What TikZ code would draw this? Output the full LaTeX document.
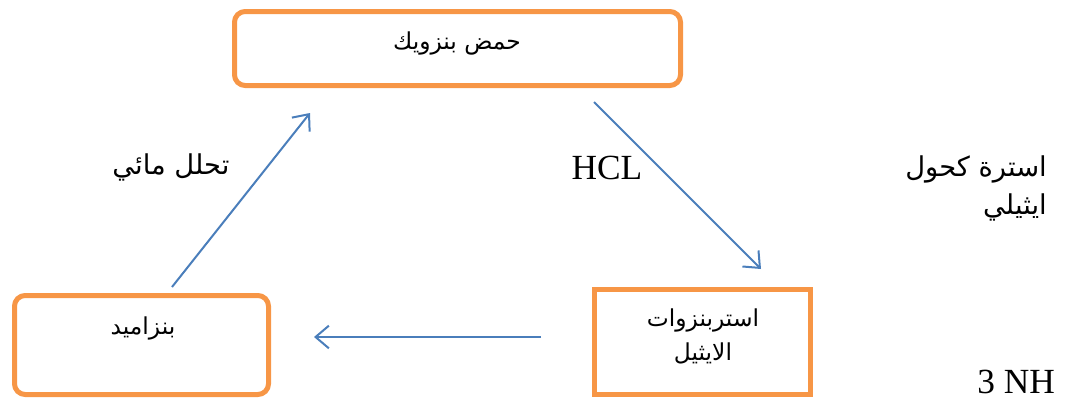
\documentclass[tikz,border=0pt]{standalone}
\usepackage{fontspec}
\setmainfont{Liberation Serif}
\newfontfamily\arabicfont[Script=Arabic]{DejaVu Sans}
\TeXXeTstate=1
\usetikzlibrary{arrows.meta}
\definecolor{boxorange}{HTML}{F79646}
\definecolor{arrowblue}{HTML}{4A7EBB}
\tikzset{
  chembox/.style={draw=boxorange, line width=3.75pt, inner sep=0pt},
  roundbox/.style={chembox, rounded corners=8pt},
  flow/.style={draw=arrowblue, line width=1.5pt, -{Straight Barb[length=10pt,width=17pt,line width=1.5pt]}},
  boxtext/.style={font=\arabicfont\fontsize{17.5}{25.5}\selectfont, inner sep=0pt, align=center},
  bigarabic/.style={font=\arabicfont\fontsize{20.5}{28.5}\selectfont, inner sep=0pt, align=right},
  latinlabel/.style={font=\fontsize{26.5}{30}\selectfont, inner sep=0pt}
}
\begin{document}
\begin{tikzpicture}[x=0.75pt,y=-0.75pt]
\useasboundingbox (0,0) rectangle (1065,400);
% boxes
\node[roundbox, minimum width=334.5pt, minimum height=55.5pt] (acid) at (457.5,48.5) {};
\node[roundbox, minimum width=190.5pt, minimum height=74.25pt] (amide) at (141.5,345) {};
\node[chembox, minimum width=162pt, minimum height=78.75pt] (ester) at (702.5,342) {};
% box texts
\node[boxtext] (acidtext) at (457,43) {\beginR حمض بنزويك\endR};
\node[boxtext] (amidetext) at (143,328) {\beginR بنزاميد\endR};
\node[boxtext] (estertext) at (703,336) {\beginR استربنزوات\endR\\\beginR الايثيل\endR};
% arrow end points
\coordinate (a1s) at (172,287);
\coordinate (a1e) at (310,113);
\coordinate (a2s) at (594,102);
\coordinate (a2e) at (761,269);
\coordinate (a3s) at (541,337);
\coordinate (a3e) at (314,337);
\draw[flow] (a1s) -- (a1e);
\draw[flow] (a2s) -- (a2e);
\draw[flow] (a3s) -- (a3e);
% labels
\node[bigarabic] (hydro) at (171,167) {\beginR تحلل مائي\endR};
\node[latinlabel] (hcl) at (607,168) {HCL};
\node[bigarabic, anchor=east] (esterif) at (1047,188) {\beginR استرة كحول\endR\\\beginR ايثيلي\endR};
\node[latinlabel, anchor=base west] (nh) at (977,393) {3 NH};
\end{tikzpicture}
\end{document}
